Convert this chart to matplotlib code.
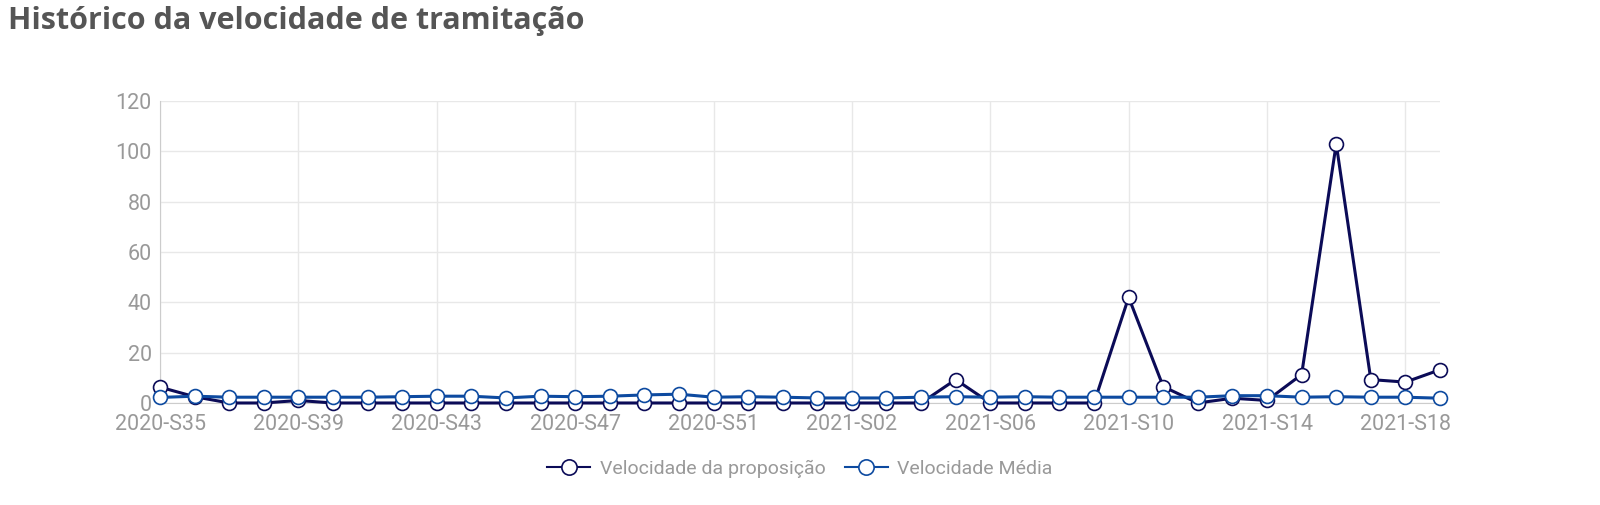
import matplotlib
matplotlib.use("Agg")
import matplotlib.pyplot as plt
import numpy as np

weeks = [f"2020-S{w}" for w in range(35, 54)] + [f"2021-S{w:02d}" for w in range(1, 20)]

velocidade_proposicao = [6.3, 2.5, 0, 0, 1, 0, 0, 0, 0, 0, 0, 0, 0, 0, 0, 0, 0, 0, 0,
                         0, 0, 0, 0, 9.3, 0, 0, 0, 0, 42, 6.5, 0, 1.9, 1, 11.3, 103, 9.3, 8.3, 13.2]
velocidade_media = [2.2, 2.7, 2.3, 2.3, 2.3, 2.3, 2.3, 2.5, 2.7, 2.7, 2.0, 2.7, 2.5, 2.7, 3.2, 3.5, 2.3, 2.5, 2.3,
                    2.0, 2.0, 2.0, 2.3, 2.5, 2.3, 2.5, 2.3, 2.3, 2.3, 2.3, 2.3, 2.9, 2.9, 2.3, 2.5, 2.3, 2.3, 1.9]

yticks = [0, 20, 40, 60, 80, 100, 120]

c_prop = "#0b0b57"
c_media = "#0d4aa0"

fig = plt.figure(figsize=(16, 5.05), dpi=100)
ax = fig.add_axes([0.1, 0.202, 0.8, 0.598])

x = np.arange(len(weeks))
ax.plot(x, velocidade_proposicao, color=c_prop, lw=2.2, marker="o", ms=10,
        mfc="white", mec=c_prop, mew=1.2, clip_on=False, zorder=3, label="Velocidade da proposição")
ax.plot(x, velocidade_media, color=c_media, lw=2.2, marker="o", ms=10,
        mfc="white", mec=c_media, mew=1.2, clip_on=False, zorder=4, label="Velocidade Média")

ax.set_xlim(0, len(weeks) - 1)
ax.set_ylim(0, 120)
ax.set_yticks(yticks)
ax.set_xticks(x[::4])
ax.set_xticklabels([weeks[i] for i in range(0, len(weeks), 4)])
ax.grid(True, color="#e8e8e8", lw=1)
ax.set_axisbelow(True)
for s in ["top", "right"]:
    ax.spines[s].set_visible(False)
ax.spines["left"].set_color("#cccccc")
ax.spines["bottom"].set_color("#cccccc")
ax.tick_params(axis="y", length=0, labelsize=15.5, labelcolor="#999999", pad=6)
ax.tick_params(axis="x", length=0, labelsize=15.5, labelcolor="#999999", pad=8)
for lab in ax.get_xticklabels() + ax.get_yticklabels():
    lab.set_fontfamily("Roboto")

handles, labels = ax.get_legend_handles_labels()
leg = fig.legend(handles, labels, loc="center", bbox_to_anchor=(0.5, 0.071),
                 ncol=2, frameon=False, prop={"family": "Roboto", "size": 14},
                 handlelength=2.2, columnspacing=1.0, handletextpad=0.5, markerscale=1.1)
for t in leg.get_texts():
    t.set_color("#999999")
for h in leg.legend_handles:
    h.set_linewidth(1.5)

fig.text(0.005, 0.958, "Histórico da velocidade de tramitação", fontsize=22, fontweight="bold",
         color="#555555", family="Open Sans", va="center", ha="left")

fig.savefig("out.png", dpi=100)
